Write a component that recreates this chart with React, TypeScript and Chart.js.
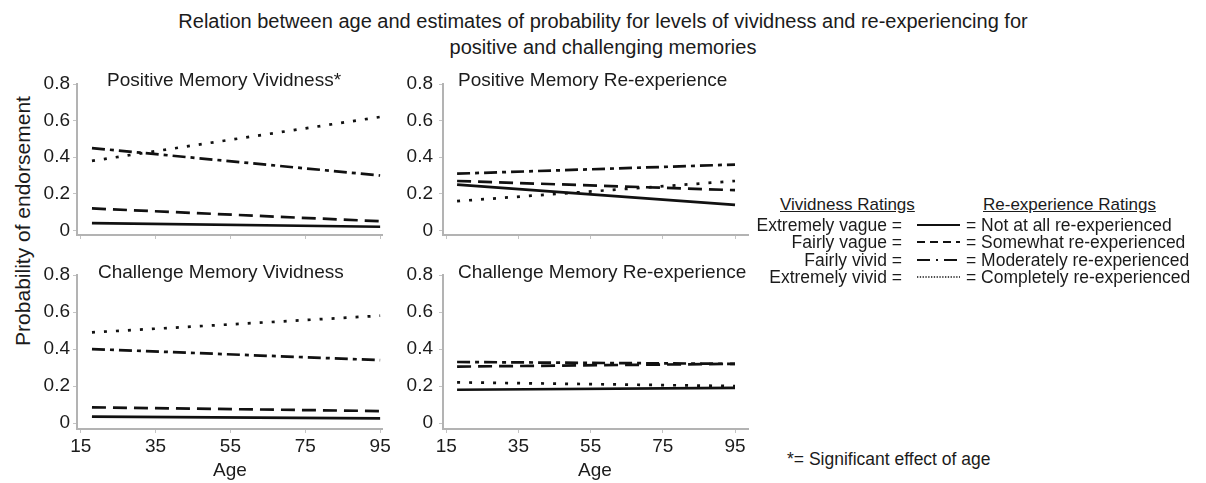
import React, { useEffect, useRef } from 'react';
import { Chart, registerables } from 'chart.js';

Chart.register(...registerables);

const FONT = '"Liberation Sans", Arial, Helvetica, sans-serif';
const TEXT = '#1b1b1b';

// ---- data ----
const ages = [18, 95];
const xTickValues = [15, 35, 55, 75, 95];
const yTickValues = [0, 0.2, 0.4, 0.6, 0.8];
const yTickLabels = ['0', '0.2', '0.4', '0.6', '0.8'];

const vividnessLevels = ['Extremely vague', 'Fairly vague', 'Fairly vivid', 'Extremely vivid'];
const reexperienceLevels = [
  'Not at all re-experienced',
  'Somewhat re-experienced',
  'Moderately re-experienced',
  'Completely re-experienced',
];

// values at age 18 and age 95
const posVivExtremelyVague = [0.04, 0.02];
const posVivFairlyVague = [0.12, 0.05];
const posVivFairlyVivid = [0.45, 0.3];
const posVivExtremelyVivid = [0.38, 0.62];

const posReNotAtAll = [0.25, 0.14];
const posReSomewhat = [0.27, 0.22];
const posReModerately = [0.31, 0.36];
const posReCompletely = [0.16, 0.27];

const chalVivExtremelyVague = [0.035, 0.025];
const chalVivFairlyVague = [0.085, 0.065];
const chalVivFairlyVivid = [0.4, 0.34];
const chalVivExtremelyVivid = [0.49, 0.58];

const chalReNotAtAll = [0.18, 0.19];
const chalReSomewhat = [0.305, 0.32];
const chalReModerately = [0.33, 0.32];
const chalReCompletely = [0.22, 0.2];

// ---- styles ----
const lineDashes: number[][] = [[], [14, 7], [13, 5, 4, 5], [3, 9]];
const legendDashes = ['', '8 5', '13 6 2 6', '1.3 1.5'];
const legendWidths = [2, 2, 2.2, 1.5];

type PanelDef = {
  title: string;
  series: number[][];
  levels: string[];
  left: number;
  top: number;
  plotH: number;
  xh: number;
  showX: boolean;
  xMin: number;
  xMax: number;
  yMin: number;
  tickPad: number;
  titleX: number;
  titleY: number;
};

const YW = 44;
const PAD_TOP = 10;
const PAD_RIGHT = 12;
const PLOT_W = 305;

const panels: PanelDef[] = [
  {
    title: 'Positive Memory Vividness*',
    series: [posVivExtremelyVague, posVivFairlyVague, posVivFairlyVivid, posVivExtremelyVivid],
    levels: vividnessLevels,
    left: 33, top: 74, plotH: 151, xh: 8, showX: false,
    xMin: 14, xMax: 95.5, yMin: -0.025, tickPad: 3, titleX: 107, titleY: 80,
  },
  {
    title: 'Positive Memory Re-experience',
    series: [posReNotAtAll, posReSomewhat, posReModerately, posReCompletely],
    levels: reexperienceLevels,
    left: 399, top: 74, plotH: 151, xh: 8, showX: false,
    xMin: 14.1, xMax: 98.6, yMin: -0.025, tickPad: 6, titleX: 458, titleY: 80,
  },
  {
    title: 'Challenge Memory Vividness',
    series: [chalVivExtremelyVague, chalVivFairlyVague, chalVivFairlyVivid, chalVivExtremelyVivid],
    levels: vividnessLevels,
    left: 33, top: 265, plotH: 154, xh: 30, showX: true,
    xMin: 14, xMax: 95.5, yMin: -0.032, tickPad: 3, titleX: 98, titleY: 272,
  },
  {
    title: 'Challenge Memory Re-experience',
    series: [chalReNotAtAll, chalReSomewhat, chalReModerately, chalReCompletely],
    levels: reexperienceLevels,
    left: 399, top: 265, plotH: 154, xh: 30, showX: true,
    xMin: 14.1, xMax: 98.6, yMin: -0.032, tickPad: 6, titleX: 458, titleY: 272,
  },
];

function Panel({ p }: { p: PanelDef }) {
  const ref = useRef<HTMLCanvasElement | null>(null);
  const width = YW + PLOT_W + PAD_RIGHT;
  const height = PAD_TOP + p.plotH + p.xh;

  useEffect(() => {
    if (!ref.current) return;
    const chart = new Chart(ref.current, {
      type: 'line',
      data: {
        datasets: p.series.map((vals, i) => ({
          label: p.levels[i],
          data: ages.map((a, j) => ({ x: a, y: vals[j] })),
          borderColor: '#111111',
          borderWidth: 2.7,
          borderDash: lineDashes[i],
          borderCapStyle: 'butt',
          pointRadius: 0,
          tension: 0,
          fill: false,
        })),
      },
      options: {
        animation: false,
        responsive: false,
        events: [],
        layout: { padding: { top: PAD_TOP, right: PAD_RIGHT, left: 0, bottom: 0 } },
        plugins: {
          legend: { display: false },
          tooltip: { enabled: false },
          title: { display: false },
        },
        scales: {
          x: {
            type: 'linear',
            min: p.xMin,
            max: p.xMax,
            afterBuildTicks: (s: any) => {
              s.ticks = xTickValues.map((v) => ({ value: v }));
            },
            afterFit: (s: any) => {
              s.height = p.xh;
              s.paddingLeft = 0;
              s.paddingRight = 0;
            },
            ticks: {
              display: p.showX,
              autoSkip: false,
              maxRotation: 0,
              padding: 2,
              color: TEXT,
              font: { family: FONT, size: 19 },
              callback: (v: any) => String(v),
            },
            grid: { drawOnChartArea: false, tickLength: 4, color: '#c4c4c4', lineWidth: 1 },
            border: { color: '#b3b3b3', width: 2 },
          },
          y: {
            type: 'linear',
            min: p.yMin,
            max: 0.8,
            afterBuildTicks: (s: any) => {
              s.ticks = yTickValues.map((v) => ({ value: v }));
            },
            afterFit: (s: any) => {
              s.width = YW;
              s.paddingTop = 0;
              s.paddingBottom = 0;
            },
            ticks: {
              autoSkip: false,
              padding: p.tickPad,
              color: TEXT,
              font: { family: FONT, size: 19 },
              callback: (v: any) => {
                const idx = yTickValues.findIndex((t) => Math.abs(t - v) < 1e-9);
                return idx >= 0 ? yTickLabels[idx] : '';
              },
            },
            grid: { drawOnChartArea: false, tickLength: 4, color: '#c4c4c4', lineWidth: 1 },
            border: { color: '#b3b3b3', width: 2 },
          },
        },
      } as any,
    });
    return () => chart.destroy();
  }, [p]);

  return (
    <>
      <canvas
        ref={ref}
        width={width}
        height={height}
        style={{ position: 'absolute', left: p.left, top: p.top, width, height }}
      />
      <div
        style={{
          position: 'absolute',
          left: p.titleX,
          top: p.titleY - 12,
          lineHeight: '24px',
          fontSize: 19,
          whiteSpace: 'nowrap',
        }}
      >
        {p.title}
      </div>
    </>
  );
}

function LegendSample({ i, x, y }: { i: number; x: number; y: number }) {
  return (
    <svg
      width={44}
      height={8}
      style={{ position: 'absolute', left: x, top: y - 4, overflow: 'visible' }}
    >
      <line
        x1={0}
        y1={4}
        x2={43}
        y2={4}
        stroke="#111"
        strokeWidth={legendWidths[i]}
        strokeDasharray={legendDashes[i] || undefined}
      />
    </svg>
  );
}

const LEG_FS = 17.5;

export default function App() {
  const rowYs = [225, 242, 259.5, 277];
  return (
    <div
      style={{
        position: 'absolute',
        left: 0,
        top: 0,
        width: 1206,
        height: 483,
        background: '#ffffff',
        fontFamily: FONT,
        color: TEXT,
        overflow: 'hidden',
      }}
    >
      <div
        style={{
          position: 'absolute',
          left: 0,
          top: 8,
          width: 1206,
          textAlign: 'center',
          fontSize: 20,
          lineHeight: '26px',
        }}
      >
        <div>Relation between age and estimates of probability for levels of vividness and re-experiencing for</div>
        <div>positive and challenging memories</div>
      </div>

      <div
        style={{
          position: 'absolute',
          left: 23 - 160,
          top: 221 - 13,
          width: 320,
          height: 26,
          lineHeight: '26px',
          textAlign: 'center',
          fontSize: 21,
          transform: 'rotate(-90deg)',
          whiteSpace: 'nowrap',
        }}
      >
        Probability of endorsement
      </div>

      {panels.map((p, i) => (
        <Panel key={i} p={p} />
      ))}

      {[230, 595].map((cx, i) => (
        <div
          key={i}
          style={{
            position: 'absolute',
            left: cx - 50,
            top: 470 - 12,
            width: 100,
            lineHeight: '24px',
            textAlign: 'center',
            fontSize: 19,
          }}
        >
          Age
        </div>
      ))}

      <div
        style={{
          position: 'absolute',
          left: 780,
          top: 205 - 10,
          lineHeight: '20px',
          fontSize: 17,
          textDecoration: 'underline',
          whiteSpace: 'nowrap',
        }}
      >
        Vividness Ratings
      </div>
      <div
        style={{
          position: 'absolute',
          left: 983,
          top: 205 - 10,
          lineHeight: '20px',
          fontSize: 17,
          textDecoration: 'underline',
          whiteSpace: 'nowrap',
        }}
      >
        Re-experience Ratings
      </div>

      {vividnessLevels.map((lv, i) => (
        <React.Fragment key={i}>
          <div
            style={{
              position: 'absolute',
              left: 650,
              width: 252,
              top: rowYs[i] - 10,
              lineHeight: '20px',
              fontSize: LEG_FS,
              textAlign: 'right',
              whiteSpace: 'nowrap',
            }}
          >
            {lv + ' ='}
          </div>
          <LegendSample i={i} x={917} y={rowYs[i]} />
          <div
            style={{
              position: 'absolute',
              left: 966,
              top: rowYs[i] - 10,
              lineHeight: '20px',
              fontSize: LEG_FS,
              whiteSpace: 'nowrap',
            }}
          >
            {'= ' + reexperienceLevels[i]}
          </div>
        </React.Fragment>
      ))}

      <div
        style={{
          position: 'absolute',
          left: 787,
          top: 459 - 10,
          lineHeight: '20px',
          fontSize: LEG_FS,
          whiteSpace: 'nowrap',
        }}
      >
        *= Significant effect of age
      </div>
    </div>
  );
}
